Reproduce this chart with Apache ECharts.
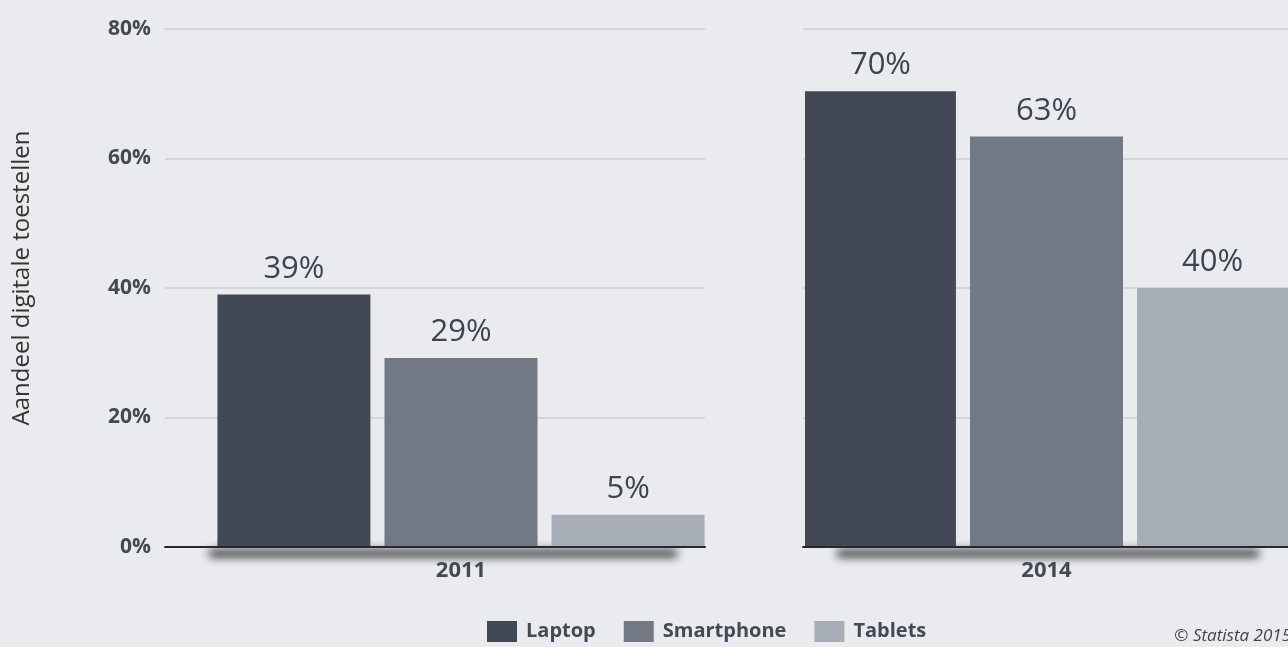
<!DOCTYPE html>
<html>
<head>
<meta charset="utf-8">
<script src="https://cdn.jsdelivr.net/npm/echarts@6/dist/echarts.min.js"></script>
<style>
html,body{margin:0;padding:0;background:#eaebef;}
#chart{width:1288px;height:647px;}
</style>
</head>
<body>
<div id="chart"></div>
<script>
// Data
const categories = ['2011', '2014'];
const seriesNames = ['Laptop', 'Smartphone', 'Tablets'];
const laptop = [39, 70.4];
const smartphone = [29.2, 63.4];
const tablets = [5, 40];
const yTicks = [0, 20, 40, 60, 80];
const yTitle = 'Aandeel digitale toestellen';
const credit = '© Statista 2015';

const values = [laptop, smartphone, tablets];
const colors = ['#424854', '#727884', '#a7adb6'];
const FONT = '"Open Sans", "Noto Sans", sans-serif';
const textDark = '#434a54';

const yMin = yTicks[0], yMax = yTicks[yTicks.length - 1], yInt = yTicks[1] - yTicks[0];

// per year: background grid, bar grid, shadow grid
const layout = [
  {bg: {left: 165, width: 540}, bars: {left: 217, width: 488}, shadow: {left: 212, width: 462}},
  {bg: {left: 803, width: 495}, bars: {left: 805, width: 488}, shadow: {left: 840, width: 416}}
];
const TOP = 29, HEIGHT = 518;

const grids = [];
const xAxes = [];
const yAxes = [];
const series = [];

categories.forEach((cat, i) => {
  const L = layout[i];
  const gBg = grids.length;
  grids.push({left: L.bg.left, width: L.bg.width, top: TOP, height: HEIGHT});
  const gShadow = grids.length;
  grids.push({left: L.shadow.left, width: L.shadow.width, top: TOP, height: HEIGHT});
  const gBars = grids.length;
  grids.push({left: L.bars.left, width: L.bars.width, top: TOP, height: HEIGHT});

  // background axes: gridlines + dark baseline
  xAxes.push({
    gridIndex: gBg, type: 'category', data: [cat], z: 3,
    axisLine: {show: true, lineStyle: {color: '#25282e', width: 2}},
    axisTick: {show: false}, axisLabel: {show: false}
  });
  yAxes.push({
    gridIndex: gBg, type: 'value', min: yMin, max: yMax, interval: yInt,
    axisLine: {show: false}, axisTick: {show: false},
    axisLabel: {
      show: i === 0, formatter: '{value}%', margin: 14,
      fontFamily: FONT, fontSize: 21, fontWeight: 'bold', color: textDark
    },
    splitLine: {show: true, lineStyle: {color: '#d2d5da', width: 2}}
  });

  // soft shadow under the baseline (line drawn off-canvas, only its shadow shows)
  xAxes.push({
    gridIndex: gShadow, type: 'category', data: [cat], offset: 300, z: 0,
    axisLine: {show: true, onZero: false, lineStyle: {
      color: 'rgba(0,0,0,1)', width: 7,
      shadowColor: 'rgba(0,0,0,0.85)', shadowBlur: 10, shadowOffsetY: -294
    }},
    axisTick: {show: false}, axisLabel: {show: false}
  });
  yAxes.push({gridIndex: gShadow, type: 'value', min: yMin, max: yMax, show: false});

  // bars axes
  xAxes.push({
    gridIndex: gBars, type: 'category', data: [cat],
    axisLine: {show: false}, axisTick: {show: false},
    axisLabel: {
      show: true, margin: 13,
      fontFamily: FONT, fontSize: 22, fontWeight: 'bold', color: textDark
    }
  });
  const yBars = yAxes.length;
  yAxes.push({gridIndex: gBars, type: 'value', min: yMin, max: yMax, interval: yInt, show: false});

  seriesNames.forEach((name, s) => {
    series.push({
      name: name, type: 'bar',
      xAxisIndex: xAxes.length - 1, yAxisIndex: yBars,
      data: [values[s][i]],
      barWidth: 153, barGap: '9.2%', barCategoryGap: '0%',
      itemStyle: {color: colors[s]},
      label: {
        show: true, position: 'top', distance: 10,
        formatter: p => Math.round(p.value) + '%',
        fontFamily: FONT, fontSize: 31, color: '#3d4350'
      },
      emphasis: {disabled: true}
    });
  });
});

const chart = echarts.init(document.getElementById('chart'));
chart.setOption({
  backgroundColor: '#eaebef',
  animation: false,
  grid: grids,
  xAxis: xAxes,
  yAxis: yAxes,
  legend: {
    data: seriesNames,
    left: 487, top: 621, padding: 0,
    itemWidth: 30, itemHeight: 21, itemGap: 28,
    icon: 'rect',
    textStyle: {fontFamily: FONT, fontSize: 20, fontWeight: 'bold', color: textDark, padding: [3, 0, 0, 4]}
  },
  graphic: [
    {
      type: 'text', x: 22, y: 278, rotation: Math.PI / 2,
      style: {text: yTitle, font: '24px ' + FONT, fill: '#333', align: 'center', verticalAlign: 'middle'}
    },
    {
      type: 'text', right: -3, bottom: 2,
      style: {text: credit, font: 'italic 17px ' + FONT, fill: '#444'}
    }
  ],
  series: series
});
</script>
</body>
</html>
